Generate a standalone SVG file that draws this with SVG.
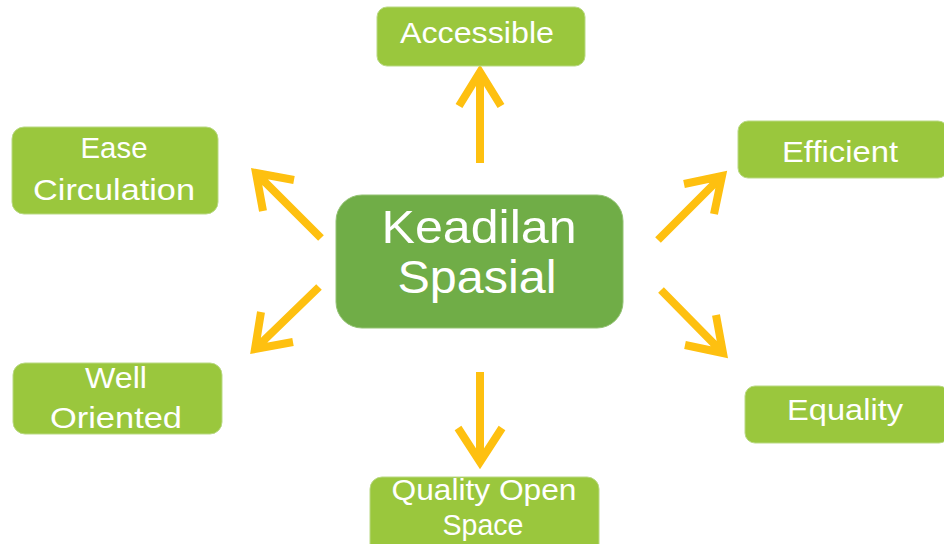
<svg xmlns="http://www.w3.org/2000/svg" width="944" height="544" viewBox="0 0 944 544">
  <style>
    .leaf rect { fill: #9AC73D; stroke: #B9D983; stroke-width: 1; }
    .hub rect { fill: #70AD47; stroke: #93C273; stroke-width: 1; }
    text { font-family: "Liberation Sans", Arial, sans-serif; fill: #FFFFFF; text-anchor: middle; }
    .leaf text { font-size: 30px; }
    .hub text { font-size: 47px; }
    .arrows path { fill: none; stroke: #FEC010; stroke-width: 8; stroke-linecap: butt; stroke-linejoin: miter; }
  </style>

  <rect width="944" height="544" fill="#FFFFFF"/>

  <!-- connectors: shaft plus open chevron head -->
  <g class="arrows">
    <path d="M480,163 L480,72 M459,106 L480,72 L501,106"/>
    <path d="M321,238 L256,173 M294,180 L256,173 L263,211"/>
    <path d="M658,240 L722,176 M684,184 L722,176 L714,214"/>
    <path d="M319,287 L255,349 M261,312 L255,349 L293,342"/>
    <path d="M661,290 L723,353 M716,315 L723,353 L685,345"/>
    <path d="M480,372 L480,462 M458,428 L480,462 L502,428"/>
  </g>

  <g id="hub" class="hub">
    <rect x="336" y="195" width="287" height="133" rx="26"/>
    <text x="479" y="243" textLength="195" lengthAdjust="spacingAndGlyphs">Keadilan</text>
    <text x="477" y="293" textLength="159" lengthAdjust="spacingAndGlyphs">Spasial</text>
  </g>

  <g id="accessible" class="leaf">
    <rect x="377" y="7" width="208" height="59" rx="10"/>
    <text x="477" y="43" textLength="154" lengthAdjust="spacingAndGlyphs">Accessible</text>
  </g>

  <g id="ease-circulation" class="leaf">
    <rect x="12" y="127" width="206" height="87" rx="12"/>
    <text x="114" y="158" textLength="67" lengthAdjust="spacingAndGlyphs">Ease</text>
    <text x="114" y="200" textLength="162" lengthAdjust="spacingAndGlyphs">Circulation</text>
  </g>

  <g id="efficient" class="leaf">
    <rect x="738" y="121" width="210" height="57" rx="10"/>
    <text x="840" y="162" textLength="116" lengthAdjust="spacingAndGlyphs">Efficient</text>
  </g>

  <g id="well-oriented" class="leaf">
    <rect x="13" y="363" width="209" height="71" rx="12"/>
    <text x="116" y="388" textLength="62" lengthAdjust="spacingAndGlyphs">Well</text>
    <text x="116" y="428" textLength="132" lengthAdjust="spacingAndGlyphs">Oriented</text>
  </g>

  <g id="equality" class="leaf">
    <rect x="745" y="386" width="204" height="57" rx="10"/>
    <text x="845" y="420" textLength="116" lengthAdjust="spacingAndGlyphs">Equality</text>
  </g>

  <g id="quality-open-space" class="leaf">
    <rect x="370" y="477" width="229" height="80" rx="12"/>
    <text x="484" y="500" textLength="185" lengthAdjust="spacingAndGlyphs">Quality Open</text>
    <text x="483" y="535" textLength="81" lengthAdjust="spacingAndGlyphs">Space</text>
  </g>
</svg>
